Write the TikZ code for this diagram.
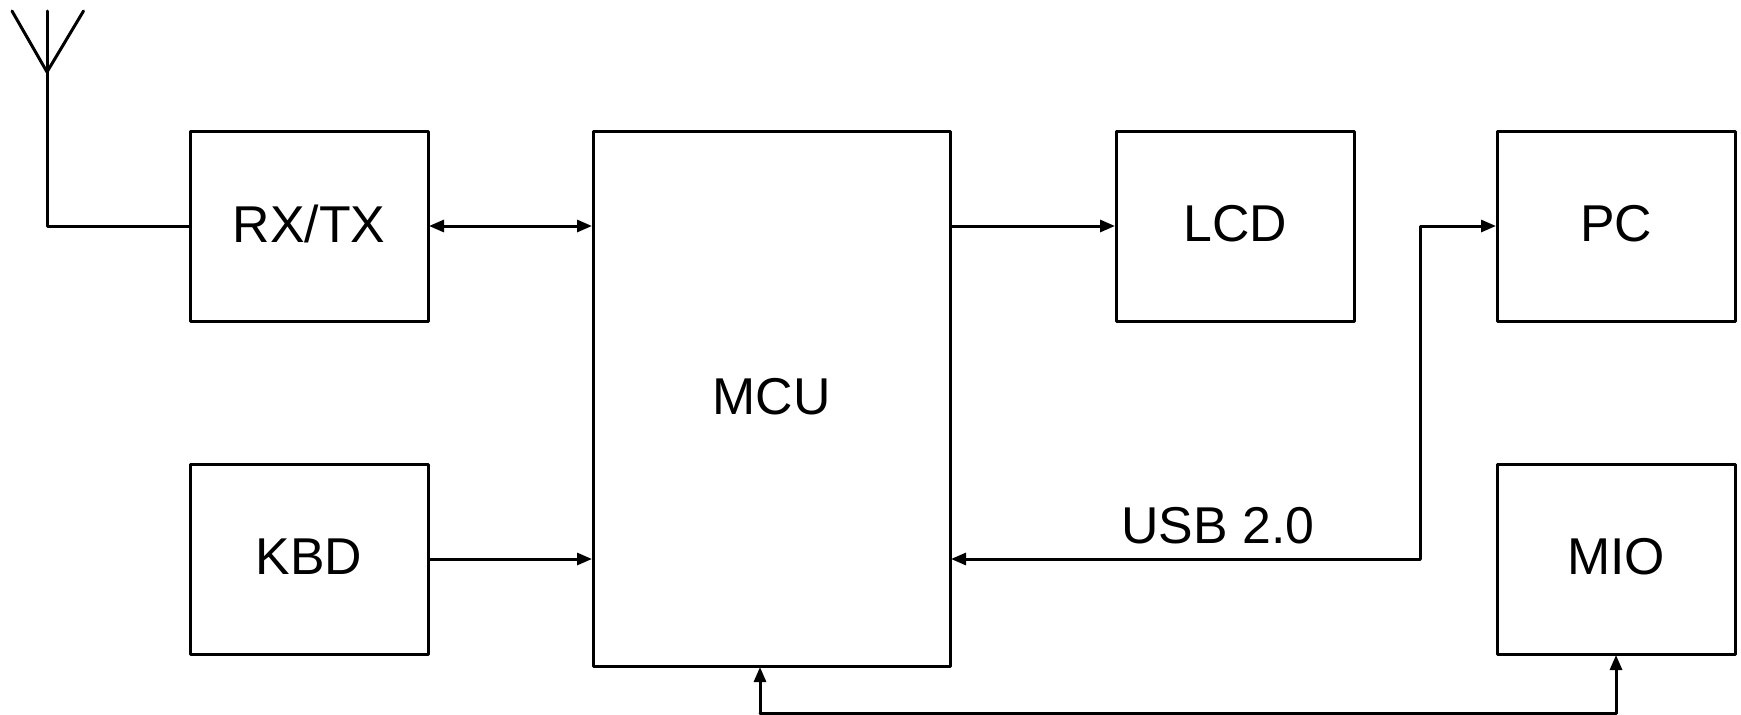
\documentclass[tikz,border=0pt]{standalone}
\usepackage{fontspec}
\setmainfont{Liberation Sans}
\usetikzlibrary{arrows.meta,calc}
\tikzset{
  wire/.style={line width=3pt,line join=round,line cap=round,black},
  flow/.style={wire,-{Triangle[length=15pt,width=12pt]}},
  biflow/.style={wire,{Triangle[length=15pt,width=12pt]}-{Triangle[length=15pt,width=12pt]}},
  block/.style={draw,line width=3pt,line join=round,outer sep=1pt,minimum width=238pt,minimum height=190pt,inner sep=0pt,text depth=5pt,font=\fontsize{51.8}{60}\selectfont},
  lbl/.style={inner sep=0pt,font=\fontsize{51.8}{60}\selectfont}
}
\begin{document}
\begin{tikzpicture}[x=1pt,y=-1pt]
\useasboundingbox (0,0) rectangle (1741,715);
\node[block] (rx) at (309,226) {RX/TX};
\node[block] (kbd) at (309,559) {KBD};
\node[block,minimum width=357pt,minimum height=535pt] (mcu) at (771.5,398.5) {MCU};
\node[block] (lcd) at (1235,226) {LCD};
\node[block] (pc) at (1616,226) {PC};
\node[block] (mio) at (1616,559) {MIO};
\node[lbl] (usb) at (1218,526) {USB 2.0};
\coordinate (anttop) at (47,11);
\coordinate (antleft) at (12,11);
\coordinate (antright) at (83.5,11);
\coordinate (antjoin) at (47,72);
\coordinate (antfoot) at (47,226);
\coordinate (usbcorner) at (1420,559);
\coordinate (usbtop) at (1420,226);
\coordinate (mcuin) at (760,666);
\coordinate (buswest) at (760,713.5);
\coordinate (buseast) at (1616,713.5);
\draw[wire] (anttop) -- (antjoin);
\draw[wire] (antleft) -- (antjoin) -- (antright);
\draw[wire] (antjoin) -- (antfoot) -- (rx.west);
\draw[biflow] (rx.east) -- (rx -| mcu.west);
\draw[flow] (kbd.east) -- (kbd -| mcu.west);
\draw[flow] (lcd -| mcu.east) -- (lcd.west);
\draw[flow] (usbcorner) -- (usbcorner -| mcu.east);
\draw[flow] (usbcorner) -- (usbtop) -- (pc.west);
\draw[flow] (buswest) -- (mcuin |- mcu.south);
\draw[flow] (buswest) -- (buseast) -- (mio.south);
\end{tikzpicture}
\end{document}
